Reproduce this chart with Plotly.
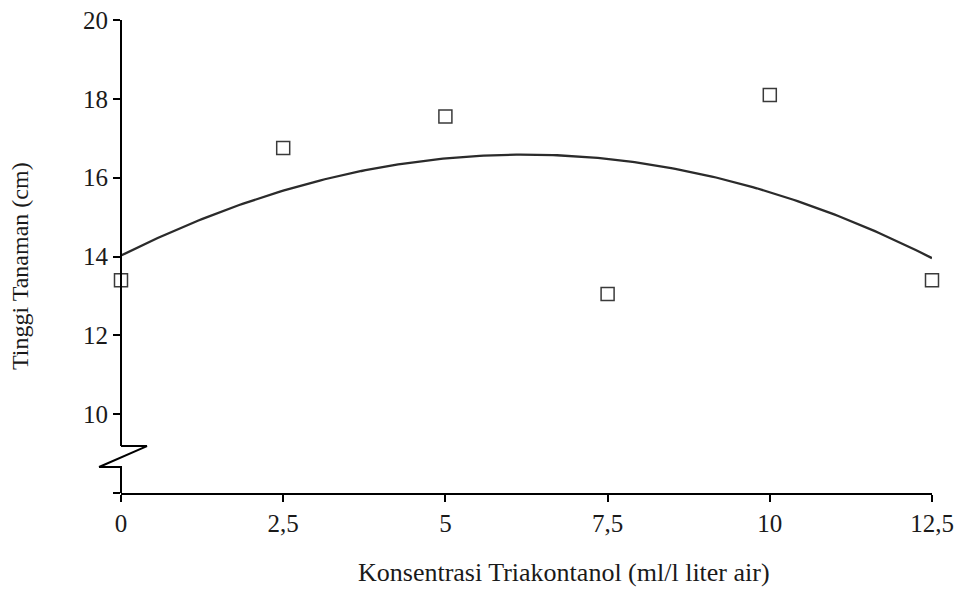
import numpy as np
import plotly.graph_objects as go

# Data
konsentrasi = [0, 2.5, 5, 7.5, 10, 12.5]
tinggi = [13.4, 16.75, 17.55, 13.05, 18.1, 13.4]
x_tickvals = [0, 2.5, 5, 7.5, 10, 12.5]
x_ticktext = ["0", "2,5", "5", "7,5", "10", "12,5"]
y_tickvals = [8, 10, 12, 14, 16, 18, 20]
y_ticktext = ["", "10", "12", "14", "16", "18", "20"]

# Polynomial (order 2) trendline from the data
coef = np.polyfit(konsentrasi, tinggi, 2)
xs = np.linspace(0, 12.5, 200)
ys = np.polyval(coef, xs)

FONT = "Liberation Serif"
fig = go.Figure()
fig.add_trace(go.Scatter(x=xs, y=ys, mode="lines",
                         line=dict(color="#2b2b2b", width=2.3), hoverinfo="skip",
                         cliponaxis=False, showlegend=False))
fig.add_trace(go.Scatter(x=konsentrasi, y=tinggi, mode="markers",
                         marker=dict(symbol="square-open", size=13,
                                     color="#3a3a3a", line=dict(width=1.5)),
                         cliponaxis=False, showlegend=False))

# y-axis line with break symbol (x in paper units so it is not clipped)
bk_top, bk_bot = 9.19, 8.66
lc = dict(color="black", width=2)
fig.add_shape(type="line", x0=0, x1=0, y0=20, y1=bk_top, xref="paper", yref="y", line=lc)
fig.add_shape(type="path", xref="paper", yref="y",
              path=f"M 0 {bk_top} L 0.032 {bk_top} L -0.027 {bk_bot} L 0 {bk_bot} L 0 8",
              line=lc)

fig.update_layout(
    width=959, height=589, autosize=False,
    margin=dict(l=121, r=27, t=20, b=96),
    plot_bgcolor="white", paper_bgcolor="white",
    font=dict(family=FONT, size=26, color="#1a1a1a"),
    xaxis=dict(range=[0, 12.5], tickvals=x_tickvals, ticktext=x_ticktext,
               showline=True, linecolor="black", linewidth=2,
               ticks="outside", ticklen=7, tickwidth=2, tickcolor="black",
               showgrid=False, zeroline=False, automargin=False,
               tickfont=dict(size=25)),
    yaxis=dict(range=[8, 20], tickvals=y_tickvals, ticktext=y_ticktext,
               showline=False, ticks="outside", ticklen=7, tickwidth=2,
               tickcolor="black", showgrid=False, zeroline=False, automargin=False,
               tickfont=dict(size=25)),
    annotations=[
        dict(text="Konsentrasi Triakontanol (ml/l liter air)", xref="paper", yref="paper",
             x=0.546, y=-0.169, xanchor="center", yanchor="middle", showarrow=False,
             font=dict(size=26, family=FONT)),
        dict(text="Tinggi Tanaman (cm)", xref="paper", yref="paper",
             x=-0.1245, y=0.48, xanchor="center", yanchor="middle", showarrow=False,
             textangle=-90, font=dict(size=24, family=FONT)),
    ],
)

fig.write_html("out.html", config={"displayModeBar": False},
               post_script="document.body.style.margin='0';")
